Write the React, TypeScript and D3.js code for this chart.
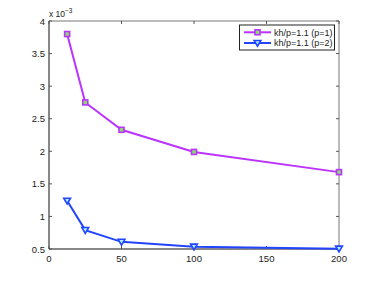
import { useEffect, useRef } from 'react';
import * as d3 from 'd3';

const xs = [12.5, 25, 50, 100, 200];
const p1 = [3.8, 2.75, 2.33, 1.99, 1.68];
const p2 = [1.24, 0.79, 0.61, 0.535, 0.505];
const xTicks = [0, 50, 100, 150, 200];
const yTicks = [0.5, 1, 1.5, 2, 2.5, 3, 3.5, 4];
const labels = ['kh/p=1.1 (p=1)', 'kh/p=1.1 (p=2)'];

const PURPLE = '#bb33ff';
const BLUE = '#2244ff';

export default function App() {
  const svgRef = useRef<SVGSVGElement>(null);

  useEffect(() => {
    const svg = d3.select(svgRef.current);
    svg.selectAll('*').remove();

    const left = 49, right = 339, top = 21, bottom = 249;
    const x = d3.scaleLinear().domain([0, 200]).range([left, right]);
    const y = d3.scaleLinear().domain([0.5, 4]).range([bottom, top]);
    const font = 'Liberation Sans, Arial, sans-serif';

    // frame
    svg.append('rect').attr('x', 0).attr('y', 0).attr('width', 374).attr('height', 281).attr('fill', '#fff');
    svg.append('line').attr('x1', left).attr('x2', right).attr('y1', top).attr('y2', top).attr('stroke', '#777');
    svg.append('line').attr('x1', right).attr('x2', right).attr('y1', top).attr('y2', bottom).attr('stroke', '#777');
    svg.append('line').attr('x1', left).attr('x2', right).attr('y1', bottom).attr('y2', bottom).attr('stroke', '#111');
    svg.append('line').attr('x1', left).attr('x2', left).attr('y1', top).attr('y2', bottom).attr('stroke', '#111');

    // ticks (inward, both sides)
    const g = svg.append('g').attr('stroke', '#555').attr('stroke-width', 1);
    xTicks.forEach(t => {
      g.append('line').attr('x1', x(t)).attr('x2', x(t)).attr('y1', bottom).attr('y2', bottom - 3);
      g.append('line').attr('x1', x(t)).attr('x2', x(t)).attr('y1', top).attr('y2', top + 3);
    });
    yTicks.forEach(t => {
      g.append('line').attr('x1', left).attr('x2', left + 3).attr('y1', y(t)).attr('y2', y(t));
      g.append('line').attr('x1', right).attr('x2', right - 3).attr('y1', y(t)).attr('y2', y(t));
    });

    const lab = svg.append('g').attr('font-family', font).attr('font-size', 9.5).attr('fill', '#222');
    xTicks.forEach(t => {
      lab.append('text').attr('x', x(t)).attr('y', bottom + 13).attr('text-anchor', 'middle').text(t);
    });
    yTicks.forEach(t => {
      lab.append('text').attr('x', left - 4).attr('y', y(t) + 3.5).attr('text-anchor', 'end').text(t);
    });
    const exp = lab.append('text').attr('x', left).attr('y', 17).attr('font-size', 8.5);
    exp.append('tspan').text('x 10');
    exp.append('tspan').attr('dy', -4).attr('font-size', 6.5).text('−3');

    const line = d3.line<number>().x((_, i) => x(xs[i])).y(d => y(d));

    const drawSquare = (sel: any, cx: number, cy: number) => {
      sel.append('rect').attr('x', cx - 2.5).attr('y', cy - 2.5).attr('width', 5).attr('height', 5)
        .attr('fill', '#88dd66').attr('stroke', PURPLE).attr('stroke-width', 1.6);
    };
    const drawTri = (sel: any, cx: number, cy: number) => {
      const s = 3.4;
      sel.append('path')
        .attr('d', `M${cx - s},${cy - s * 0.75}L${cx + s},${cy - s * 0.75}L${cx},${cy + s * 0.95}Z`)
        .attr('fill', '#aaeeff').attr('stroke', BLUE).attr('stroke-width', 1.6).attr('stroke-linejoin', 'miter');
    };

    svg.append('path').datum(p1).attr('d', line).attr('fill', 'none').attr('stroke', PURPLE).attr('stroke-width', 2);
    p1.forEach((v, i) => drawSquare(svg, x(xs[i]), y(v)));
    svg.append('path').datum(p2).attr('d', line).attr('fill', 'none').attr('stroke', BLUE).attr('stroke-width', 2);
    p2.forEach((v, i) => drawTri(svg, x(xs[i]), y(v)));

    // legend
    const lg = svg.append('g');
    lg.append('rect').attr('x', 239.5).attr('y', 25).attr('width', 95).attr('height', 25)
      .attr('fill', '#fff').attr('stroke', '#222').attr('stroke-width', 1);
    const rows = [32.3, 43];
    rows.forEach((ry, i) => {
      const col = i === 0 ? PURPLE : BLUE;
      lg.append('line').attr('x1', 244).attr('x2', 271).attr('y1', ry).attr('y2', ry).attr('stroke', col).attr('stroke-width', 2);
      if (i === 0) drawSquare(lg, 257.5, ry); else drawTri(lg, 257.5, ry);
      lg.append('text').attr('x', 274).attr('y', ry + 3.3).attr('font-family', font).attr('font-size', 9)
        .attr('fill', '#222').text(labels[i]);
    });
  }, []);

  return (
    <div style={{ position: 'absolute', left: 0, top: 0 }}>
      <svg ref={svgRef} width={374} height={281}></svg>
    </div>
  );
}
